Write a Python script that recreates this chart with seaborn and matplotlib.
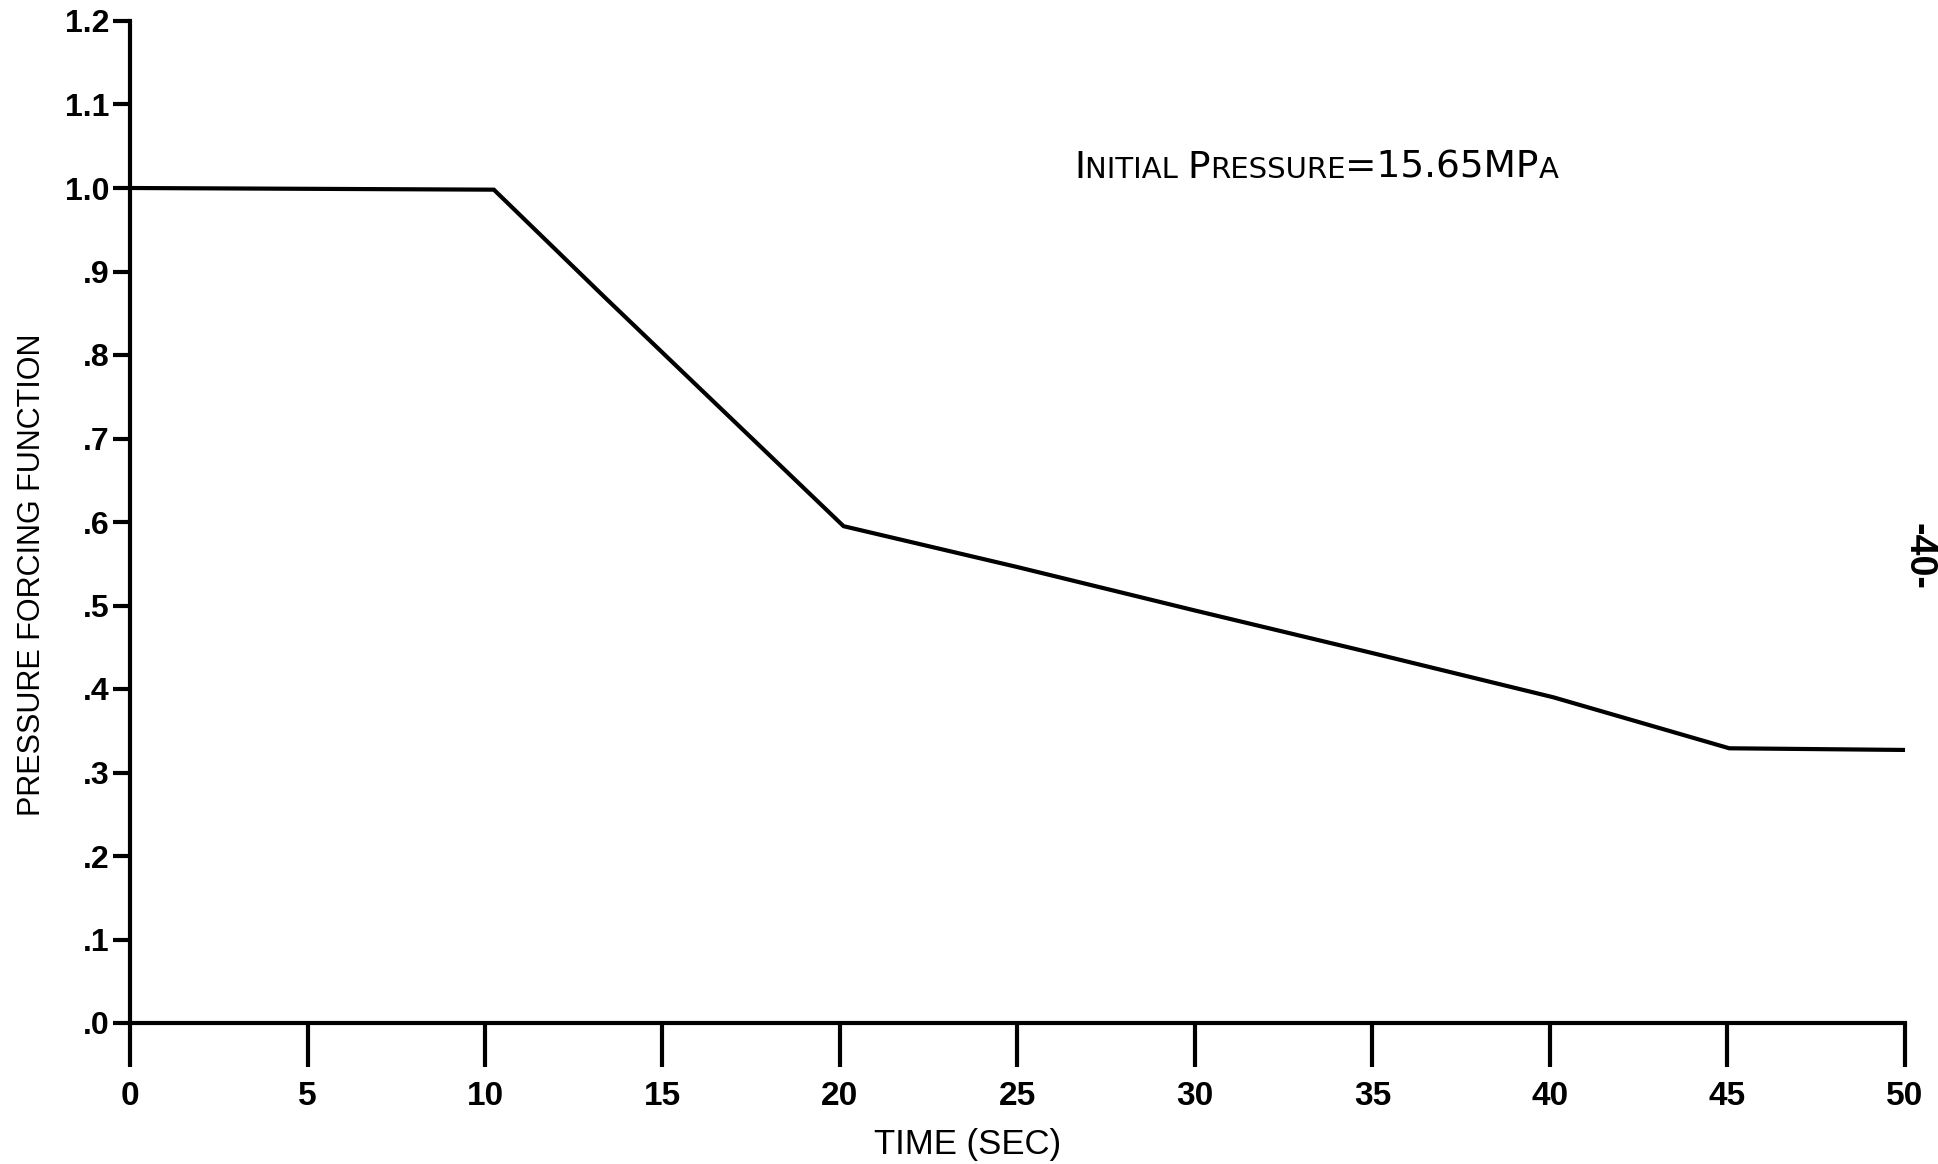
import matplotlib
matplotlib.use("Agg")
import matplotlib.pyplot as plt
import matplotlib.font_manager as fm
import seaborn as sns
import pandas as pd

# ---- data ----
time_sec = [0.0, 10.25, 13.4, 20.1, 25.0, 30.0, 35.0, 40.1, 45.05, 50.0]
pressure_fn = [1.0, 0.998, 0.868, 0.595, 0.546, 0.494, 0.443, 0.390, 0.329, 0.327]
x_ticks = [0, 5, 10, 15, 20, 25, 30, 35, 40, 45, 50]
x_tick_labels = ["0", "5", "10", "15", "20", "25", "30", "35", "40", "45", "50"]
y_ticks = [0.0, 0.1, 0.2, 0.3, 0.4, 0.5, 0.6, 0.7, 0.8, 0.9, 1.0, 1.1, 1.2]
y_tick_labels = [".0", ".1", ".2", ".3", ".4", ".5", ".6", ".7", ".8", ".9", "1.0", "1.1", "1.2"]
x_label = "TIME (SEC)"
y_label = "PRESSURE FORCING FUNCTION"
note_parts = [("I", "big"), ("NITIAL ", "small"), ("P", "big"), ("RESSURE", "small"),
              ("=15.65MP", "big"), ("A", "small")]
page_number = "-40-"

sns.set_theme(style="white")


def pick(fams):
    for f in fams:
        try:
            fm.findfont(fm.FontProperties(family=f), fallback_to_default=False)
            return f
        except Exception:
            continue
    return "DejaVu Sans"


lib = pick(["Liberation Sans", "Arial", "DejaVu Sans"])
plt.rcParams["font.family"] = [lib, "DejaVu Sans"]
plt.rcParams["text.color"] = "black"
plt.rcParams["axes.labelcolor"] = "black"

W, H, DPI = 1938, 1164, 100
fig = plt.figure(figsize=(W / DPI, H / DPI), dpi=DPI)
ax = fig.add_axes([130 / W, 1 - 1023 / H, (1905 - 130) / W, (1023 - 21) / H])

df = pd.DataFrame({"t": time_sec, "p": pressure_fn})
sns.lineplot(data=df, x="t", y="p", ax=ax, color="black", linewidth=3.0,
             solid_joinstyle="miter")

ax.set_xlim(0, 50)
ax.set_ylim(0, 1.2)
for s in ["top", "right"]:
    ax.spines[s].set_visible(False)
for s in ["left", "bottom"]:
    ax.spines[s].set_linewidth(3.0)
    ax.spines[s].set_color("black")

ax.set_xticks(x_ticks)
ax.set_xticklabels(x_tick_labels, fontsize=24, fontweight="bold")
ax.set_yticks(y_ticks)
ax.set_yticklabels(y_tick_labels, fontsize=23, fontweight="bold")
ax.tick_params(axis="x", direction="out", length=32, width=3.0, color="black",
               labelcolor="black", pad=10, bottom=True)
ax.tick_params(axis="y", direction="out", length=12, width=3.0, color="black",
               labelcolor="black", pad=3, left=True)

ax.set_xlabel(x_label, fontsize=25, color="black")
ax.xaxis.set_label_coords(0.472, -0.105)
ax.set_ylabel(y_label, fontsize=22, color="black")
ax.yaxis.set_label_coords(-0.047, 0.447)

# small-caps style annotation
fig.canvas.draw()
renderer = fig.canvas.get_renderer()
x0, y0 = ax.transData.transform((26.6, 1.012))
cur = x0
for txt, size in note_parts:
    fsz = 27 if size == "big" else 21
    t = fig.text(cur / W, y0 / H, txt, fontsize=fsz, ha="left", va="baseline",
                 color="black", family="DejaVu Sans")
    bb = t.get_window_extent(renderer)
    cur += bb.width

fig.text(1918 / W, 1 - 556 / H, page_number, rotation=-90, fontsize=27,
         ha="center", va="center", color="black", fontweight="bold")

fig.savefig("out.png", dpi=DPI, facecolor="white")
